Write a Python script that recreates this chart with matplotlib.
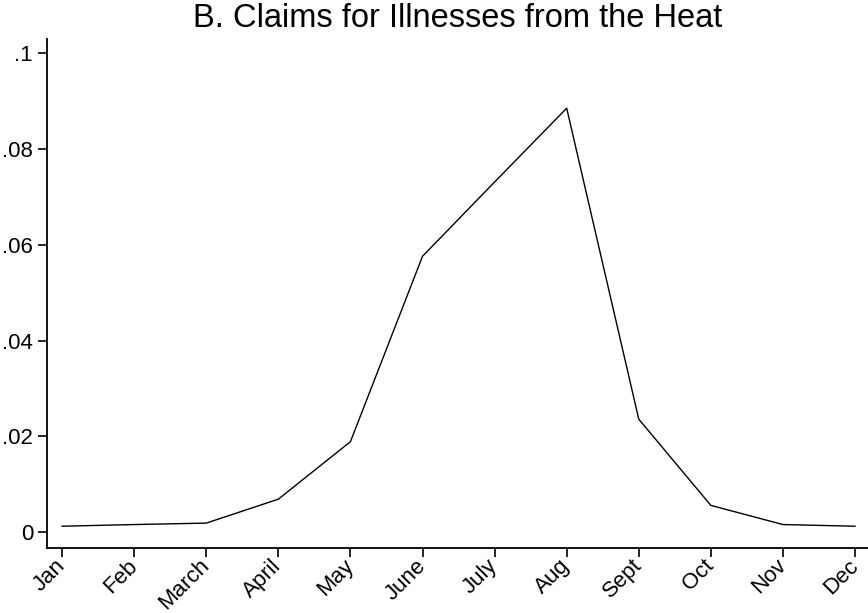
import matplotlib.pyplot as plt

plt.rcParams['font.family'] = ['Liberation Sans', 'DejaVu Sans']

# monthly share of heat-illness claims
months = ["Jan", "Feb", "March", "April", "May", "June",
          "July", "Aug", "Sept", "Oct", "Nov", "Dec"]
claims = [0.00125, 0.0016, 0.0019, 0.0069, 0.0189, 0.0576,
          0.0731, 0.0885, 0.0236, 0.0056, 0.0016, 0.00125]
y_ticks = [0, 0.02, 0.04, 0.06, 0.08, 0.1]
y_tick_labels = ["0", ".02", ".04", ".06", ".08", ".1"]

x_values = list(range(1, len(months) + 1))

fig = plt.figure(figsize=(8.68, 6.13), dpi=100)
ax = fig.add_axes([0.0541, 0.106, 0.9459, 0.830])

ax.plot(x_values, claims, color="black", linewidth=1.0)

ax.set_xlim(0.79, 12.18)
ax.set_ylim(-0.0033, 0.1029)

ax.set_xticks(x_values)
ax.set_xticklabels(months, rotation=45, ha="right", va="center",
                   rotation_mode="anchor")
ax.set_yticks(y_ticks)
ax.set_yticklabels(y_tick_labels)

for side in ["top", "right"]:
    ax.spines[side].set_visible(False)
for side in ["left", "bottom"]:
    ax.spines[side].set_linewidth(1.3)

ax.tick_params(axis="both", labelsize=16, length=6.5, width=1.2, direction="out")
ax.tick_params(axis="x", pad=4)

ax.set_title("B. Claims for Illnesses from the Heat", fontsize=23.5, pad=8.5)

fig.savefig("out.png", dpi=100)
